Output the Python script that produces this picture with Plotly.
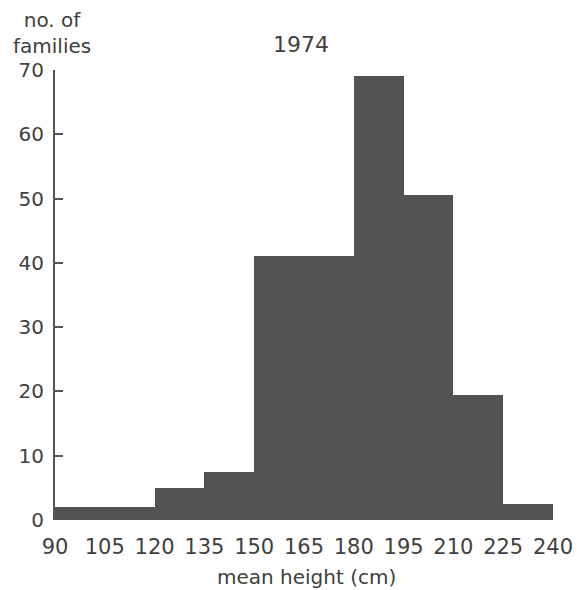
import plotly.graph_objects as go

# Data (1974)
bin_left = [90, 105, 120, 135, 150, 165, 180, 195, 210, 225]
bin_width = 15
families = [2, 2, 5, 7.5, 41, 41, 69, 50.5, 19.5, 2.5]
x_ticks = [90, 105, 120, 135, 150, 165, 180, 195, 210, 225, 240]
y_ticks = [0, 10, 20, 30, 40, 50, 60, 70]

centers = [b + bin_width / 2 for b in bin_left]

FONT = "DejaVu Sans"
TXT = "#404040"

W, H = 585, 590
ML, MR, MT, MB = 55, 32, 70, 70
PW, PH = W - ML - MR, H - MT - MB

fig = go.Figure(
    go.Bar(
        x=centers,
        y=families,
        width=[bin_width] * len(centers),
        marker=dict(color="#535353", line=dict(width=0)),
        hoverinfo="x+y",
    )
)

fig.update_layout(
    width=W,
    height=H,
    margin=dict(l=ML, r=MR, t=MT, b=MB, autoexpand=False),
    paper_bgcolor="white",
    plot_bgcolor="white",
    showlegend=False,
    bargap=0,
    font=dict(family=FONT, color=TXT, size=20),
    xaxis=dict(
        range=[90, 240],
        tickvals=x_ticks,
        ticktext=[str(v) for v in x_ticks],
        ticks="",
        showgrid=False,
        zeroline=False,
        showline=False,
        automargin=False,
        ticklabelstandoff=12,
        tickfont=dict(size=21, color=TXT, family=FONT),
    ),
    yaxis=dict(
        range=[0, 70],
        tickvals=y_ticks,
        ticks="inside",
        ticklen=8,
        tickwidth=2,
        tickcolor="#555555",
        showline=True,
        linecolor="#555555",
        linewidth=2,
        showgrid=False,
        zeroline=False,
        automargin=False,
        ticklabelstandoff=5,
        tickfont=dict(size=20, color=TXT, family=FONT),
    ),
    annotations=[
        dict(
            text="1974",
            xref="paper", yref="paper",
            x=(301 - ML) / PW, y=1 + (MT - 45) / PH,
            xanchor="center", yanchor="middle",
            showarrow=False,
            font=dict(size=22, color=TXT, family=FONT),
        ),
        dict(
            text="no. of<br>families",
            xref="paper", yref="paper",
            x=(52 - ML) / PW, y=1 + (MT - 33) / PH,
            xanchor="center", yanchor="middle",
            showarrow=False, align="center",
            font=dict(size=20, color=TXT, family=FONT),
        ),
        dict(
            text="mean height (cm)",
            xref="paper", yref="paper",
            x=(306 - ML) / PW, y=-(577 - (H - MB)) / PH,
            xanchor="center", yanchor="middle",
            showarrow=False,
            font=dict(size=20, color=TXT, family=FONT),
        ),
    ],
)

fig.write_html(
    "out.html",
    config={"displayModeBar": False},
    post_script="document.body.style.margin='0';document.body.style.padding='0';",
)
